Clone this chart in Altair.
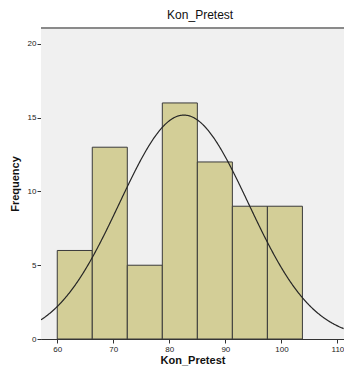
import altair as alt
import pandas as pd

# Histogram bins (Kon_Pretest) and counts
bin_start = [60.0, 66.25, 72.5, 78.75, 85.0, 91.25, 97.5]
bin_end = [66.25, 72.5, 78.75, 85.0, 91.25, 97.5, 103.75]
counts = [6, 13, 5, 16, 12, 9, 9]

# Normal curve parameters (fitted)
mean = 82.6
sd = 11.5
n = 70
bin_width = 6.25

x_domain = [57.1, 111.17]
y_domain = [0, 21.08]
x_ticks = [60, 70, 80, 90, 100, 110]
y_ticks = [0, 5, 10, 15, 20]

W = 303
H = 311

bars_df = pd.DataFrame({"start": bin_start, "end": bin_end, "count": counts})

xscale = alt.Scale(domain=x_domain, nice=False, zero=False)
yscale = alt.Scale(domain=y_domain, nice=False)

xaxis = alt.Axis(values=x_ticks, title="Kon_Pretest", grid=False, tickSize=4,
                 labelFontSize=8, labelColor="#222", titleFontSize=11,
                 titleFontWeight="bold", titleColor="#111", titlePadding=1,
                 domainColor="#333", tickColor="#333", labelPadding=2,
                 labelFont="Liberation Sans", titleFont="Liberation Sans")
yaxis = alt.Axis(values=y_ticks, title="Frequency", grid=False, tickSize=4,
                 labelFontSize=8, labelColor="#222", titleFontSize=11,
                 titleFontWeight="bold", titleColor="#111", titlePadding=7,
                 domainColor="#333", tickColor="#333", labelPadding=1,
                 labelFont="Liberation Sans", titleFont="Liberation Sans")

background = alt.Chart(bars_df).mark_rect(color="#f0f0f0").encode(
    x=alt.value(0), x2=alt.value(W), y=alt.value(0), y2=alt.value(H)
)

bars = alt.Chart(bars_df).mark_rect(
    color="#d3ce97", stroke="#3a3a3a", strokeWidth=1
).encode(
    x=alt.X("start:Q", scale=xscale, axis=xaxis),
    x2="end:Q",
    y=alt.Y("count:Q", scale=yscale, axis=yaxis),
    y2=alt.datum(0),
)

peak = n * bin_width / (sd * 2.5066282746)
curve = alt.Chart(alt.sequence(x_domain[0], x_domain[1] + 0.01, 0.1, as_="v")).transform_calculate(
    dens=f"{peak} * exp(-0.5 * pow((datum.v - {mean}) / {sd}, 2))"
).mark_line(color="#262626", strokeWidth=1.2, clip=True).encode(
    x=alt.X("v:Q", scale=xscale),
    y=alt.Y("dens:Q", scale=yscale),
)

top_border = alt.Chart(bars_df).mark_rule(color="#8a8a8a", strokeWidth=1.5).encode(
    x=alt.value(0), x2=alt.value(W), y=alt.value(0)
)

chart = alt.layer(background, bars, curve, top_border).properties(
    width=W,
    height=H,
    title=alt.TitleParams(text="Kon_Pretest", anchor="start", dx=158, offset=5,
                          fontSize=12, fontWeight="normal", color="#111",
                          font="Liberation Sans"),
    autosize=alt.AutoSizeParams(type="none"),
    padding={"left": 33, "top": 20, "right": 0, "bottom": 27},
).configure_view(
    stroke="transparent"
).configure(background="white")

chart.save("out.html", embed_options={"renderer": "svg", "actions": False})
